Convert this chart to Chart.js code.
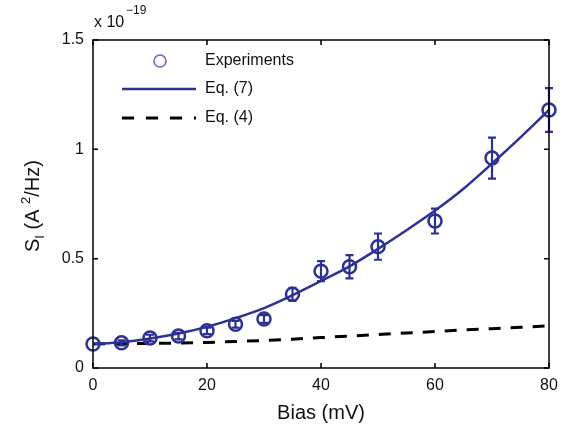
<!DOCTYPE html>
<html>
<head>
<meta charset="utf-8">
<script src="https://cdn.jsdelivr.net/npm/chart.js@4/dist/chart.umd.min.js"></script>
<style>
  html, body { margin: 0; padding: 0; background: #fff; }
  #wrap { width: 574px; height: 429px; }
</style>
</head>
<body>
<div id="wrap"><canvas id="myChart" width="574" height="429"></canvas></div>
<script>
// data, S_I in units of 1e-19 A^2/Hz
const biasExp = [0, 5, 10, 15, 20, 25, 30, 35, 40, 45, 50, 60, 70, 80];
const noiseExp = [0.11, 0.115, 0.137, 0.146, 0.17, 0.2, 0.224, 0.337, 0.443, 0.463, 0.555, 0.672, 0.96, 1.18];
const noiseErr = [0, 0.012, 0.015, 0.015, 0.015, 0.015, 0.018, 0.03, 0.046, 0.053, 0.06, 0.057, 0.094, 0.1];

const biasFit = [0, 5, 10, 15, 20, 25, 30, 35, 40, 45, 50, 55, 60, 65, 70, 75, 80];
const noiseEq7 = [0.11, 0.118, 0.135, 0.158, 0.188, 0.228, 0.274, 0.333, 0.398, 0.465, 0.545, 0.63, 0.72, 0.82, 0.935, 1.055, 1.18];
const noiseEq4 = [0.11, 0.111, 0.112, 0.114, 0.117, 0.121, 0.126, 0.132, 0.139, 0.146, 0.153, 0.16, 0.167, 0.174, 0.18, 0.186, 0.193];

const xTicks = [0, 20, 40, 60, 80];
const yTicks = [0, 0.5, 1, 1.5];
const legendLabels = ['Experiments', 'Eq. (7)', 'Eq. (4)'];

const blue = '#2d3194';
const font = '"Liberation Sans", Arial, Helvetica, sans-serif';

function pairs(xs, ys) {
  return xs.map((x, i) => ({ x: x, y: ys[i] }));
}

// error bars for the experiment points
const errorBars = {
  id: 'errorBars',
  afterDatasetsDraw(chart) {
    const ctx = chart.ctx;
    const xs = chart.scales.x, ys = chart.scales.y;
    ctx.save();
    ctx.strokeStyle = blue;
    ctx.lineWidth = 2.2;
    biasExp.forEach((b, i) => {
      if (!noiseErr[i]) return;
      const px = xs.getPixelForValue(b);
      const top = ys.getPixelForValue(noiseExp[i] + noiseErr[i]);
      const bot = ys.getPixelForValue(noiseExp[i] - noiseErr[i]);
      ctx.beginPath();
      ctx.moveTo(px, top); ctx.lineTo(px, bot);
      ctx.moveTo(px - 4, top); ctx.lineTo(px + 4, top);
      ctx.moveTo(px - 4, bot); ctx.lineTo(px + 4, bot);
      ctx.stroke();
    });
    ctx.restore();
  }
};

// matlab style box, inward ticks, titles and legend
const frame = {
  id: 'frame',
  afterDraw(chart) {
    const ctx = chart.ctx;
    const a = chart.chartArea;
    const xs = chart.scales.x, ys = chart.scales.y;
    ctx.save();
    ctx.strokeStyle = '#000';
    ctx.lineWidth = 1.5;
    ctx.strokeRect(a.left, a.top, a.right - a.left, a.bottom - a.top);
    ctx.beginPath();
    xTicks.forEach(v => {
      const px = xs.getPixelForValue(v);
      ctx.moveTo(px, a.bottom); ctx.lineTo(px, a.bottom - 5);
      ctx.moveTo(px, a.top); ctx.lineTo(px, a.top + 5);
    });
    yTicks.forEach(v => {
      const py = ys.getPixelForValue(v);
      ctx.moveTo(a.left, py); ctx.lineTo(a.left + 5, py);
      ctx.moveTo(a.right, py); ctx.lineTo(a.right - 5, py);
    });
    ctx.stroke();

    ctx.fillStyle = '#111';
    // exponent label
    ctx.textBaseline = 'alphabetic';
    ctx.textAlign = 'left';
    ctx.font = '16px ' + font;
    ctx.fillText('x 10', a.left + 1, 27);
    ctx.font = '12px ' + font;
    ctx.fillText('\u221219', a.left + 33, 14);

    // x title
    ctx.textAlign = 'center';
    ctx.font = '20px ' + font;
    ctx.fillText('Bias (mV)', (a.left + a.right) / 2, 419);

    // y title with sub/superscripts
    ctx.save();
    ctx.translate(39, 206);
    ctx.rotate(-Math.PI / 2);
    const parts = [
      ['S', 20, 0], ['I', 13, 5], [' (A ', 20, 0], ['2', 13, -9], ['/Hz)', 20, 0]
    ];
    let total = 0;
    parts.forEach(p => { ctx.font = p[1] + 'px ' + font; total += ctx.measureText(p[0]).width; });
    let cx = -total / 2;
    ctx.textAlign = 'left';
    parts.forEach(p => {
      ctx.font = p[1] + 'px ' + font;
      ctx.fillText(p[0], cx, p[2]);
      cx += ctx.measureText(p[0]).width;
    });
    ctx.restore();

    // legend
    ctx.font = '16px ' + font;
    ctx.textAlign = 'left';
    ctx.textBaseline = 'middle';
    const ly = [61, 89, 118];
    legendLabels.forEach((t, i) => ctx.fillText(t, 205, ly[i]));
    ctx.strokeStyle = '#6a63c8';
    ctx.lineWidth = 1.5;
    ctx.beginPath();
    ctx.arc(160, ly[0], 6, 0, Math.PI * 2);
    ctx.stroke();
    ctx.strokeStyle = blue;
    ctx.lineWidth = 2.5;
    ctx.beginPath();
    ctx.moveTo(122, ly[1]); ctx.lineTo(196, ly[1]);
    ctx.stroke();
    ctx.strokeStyle = '#000';
    ctx.lineWidth = 3;
    ctx.setLineDash([12, 12]);
    ctx.beginPath();
    ctx.moveTo(122, ly[2]); ctx.lineTo(196, ly[2]);
    ctx.stroke();
    ctx.restore();
  }
};

const ctx = document.getElementById('myChart');
const chart = new Chart(ctx, {
  type: 'scatter',
  data: {
    datasets: [{
      label: legendLabels[0],
      data: pairs(biasExp, noiseExp),
      showLine: false,
      pointStyle: 'circle',
      pointRadius: 6.5,
      pointBorderWidth: 2.5,
      pointBorderColor: blue,
      pointBackgroundColor: 'rgba(0,0,0,0)',
      clip: false
    }, {
      label: legendLabels[1],
      data: pairs(biasFit, noiseEq7),
      showLine: true,
      borderColor: blue,
      borderWidth: 2.5,
      pointRadius: 0,
      cubicInterpolationMode: 'monotone',
      fill: false
    }, {
      label: legendLabels[2],
      data: pairs(biasFit, noiseEq4),
      showLine: true,
      borderColor: '#000',
      borderWidth: 3,
      borderDash: [12, 10],
      pointRadius: 0,
      fill: false
    }]
  },
  options: {
    responsive: false,
    animation: false,
    events: [],
    layout: { padding: { left: 0, top: 40, right: 25, bottom: 0 } },
    plugins: {
      legend: { display: false },
      tooltip: { enabled: false }
    },
    scales: {
      x: {
        type: 'linear',
        min: 0,
        max: 80,
        afterBuildTicks: s => { s.ticks = xTicks.map(v => ({ value: v })); },
        afterFit: s => { s.height = 61; },
        grid: { display: false, drawTicks: false },
        border: { display: false },
        ticks: { padding: 8, color: '#111', font: { family: font, size: 16 }, maxRotation: 0, callback: v => String(v) }
      },
      y: {
        type: 'linear',
        min: 0,
        max: 1.5,
        afterBuildTicks: s => { s.ticks = yTicks.map(v => ({ value: v })); },
        afterFit: s => { s.width = 93; },
        grid: { display: false, drawTicks: false },
        border: { display: false },
        ticks: { padding: 9, color: '#111', font: { family: font, size: 16 }, callback: v => String(v) }
      }
    }
  },
  plugins: [errorBars, frame]
});
</script>
</body>
</html>
